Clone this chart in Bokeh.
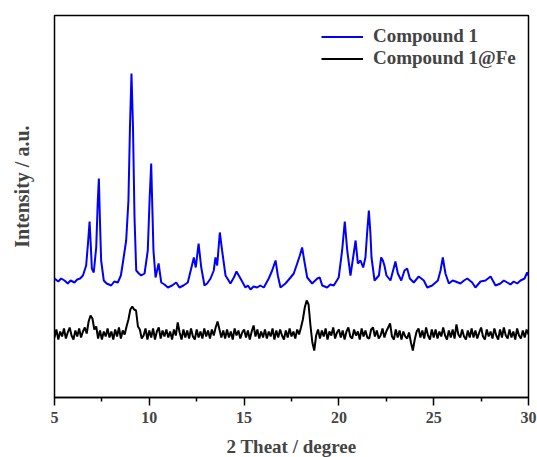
import numpy as np
from bokeh.plotting import figure
from bokeh.models import Range1d, FixedTicker, Legend, LegendItem, Title
from bokeh.embed import file_html
from bokeh.resources import INLINE

# Compound 1 (blue) : 2-theta (deg) and intensity (a.u.)
theta_c1 = [5.0, 5.2, 5.35, 5.53, 5.7, 5.85, 6.05, 6.2, 6.35, 6.5, 6.67, 6.77, 6.85, 6.92, 6.97, 7.07, 7.2, 7.28, 7.34,
            7.4, 7.46, 7.6, 7.75, 7.99, 8.15, 8.34, 8.5, 8.6, 8.78, 8.9, 8.98, 9.06, 9.14, 9.22, 9.31, 9.45, 9.57,
            9.75, 9.92, 10.02, 10.1, 10.16, 10.22, 10.33, 10.49, 10.63, 10.8, 10.98, 11.2, 11.42, 11.59, 11.8,
            12.03, 12.21, 12.35, 12.45, 12.6, 12.74, 12.91, 13.05, 13.23, 13.4, 13.49, 13.58, 13.72, 13.84, 14.02,
            14.28, 14.46, 14.6, 14.81, 15.07, 15.2, 15.34, 15.5, 15.69, 15.85, 16.04, 16.3, 16.48, 16.66, 16.78,
            16.92, 17.18, 17.45, 17.62, 17.8, 17.94, 18.06, 18.19, 18.33, 18.59, 18.86, 18.99, 19.12, 19.38, 19.55,
            19.73, 19.99, 20.17, 20.31, 20.44, 20.61, 20.75, 20.88, 21.0, 21.14, 21.28, 21.4, 21.49, 21.58, 21.66,
            21.72, 21.88, 22.11, 22.23, 22.32, 22.4, 22.51, 22.72, 22.9, 22.98, 23.11, 23.29, 23.46, 23.6, 23.74,
            23.95, 24.21, 24.48, 24.66, 24.92, 25.1, 25.22, 25.36, 25.48, 25.62, 25.8, 26.0, 26.15, 26.41, 26.6,
            26.77, 27.03, 27.2, 27.47, 27.73, 28.0, 28.26, 28.52, 28.7, 28.88, 29.05, 29.22, 29.4, 29.58, 29.79,
            29.93, 30.0]
intensity_c1 = [119, 116, 119, 117, 114, 117, 115, 118, 119, 122, 132, 155, 176, 150, 129, 125, 150, 195, 219,
                175, 137, 117, 114, 112, 116, 115, 122, 134, 157, 197, 270, 324, 270, 180, 127, 124, 122,
                124, 147, 200, 234, 190, 147, 120, 134, 115, 113, 110, 112, 115, 110, 112,
                115, 129, 140, 130, 154, 130, 112, 114, 119, 127, 140, 132, 165, 147, 122,
                114, 120, 126, 119, 110, 112, 108, 111, 110, 112, 110, 119, 127, 137, 122,
                110, 114, 120, 124, 134, 142, 150, 135, 120, 114, 119, 120, 112, 110, 113,
                112, 120, 147, 176, 147, 122, 140, 157, 134, 137, 130, 140, 165, 187, 165,
                140, 117, 122, 140, 137, 132, 122, 117, 130, 136, 124, 117, 127, 129, 119,
                115, 121, 117, 110, 112, 115, 117, 127, 140, 124, 114, 117, 116, 114, 117,
                119, 115, 110, 116, 117, 121, 112, 114, 117, 115, 113, 116, 114, 117, 119,
                125, 122]

# Compound 1@Fe (black): intensities every 0.1 deg from 5.0 to 30.0
theta_fe = list(np.round(np.arange(5.0, 30.05, 0.1), 1))
intensity_fe = [
    60, 68, 58, 66, 61, 69, 59, 65, 70, 62,
    58, 67, 61, 69, 60, 66, 70, 64, 76, 82,
    79, 68, 71, 59, 67, 58, 66, 61, 69, 60,
    66, 58, 68, 61, 70, 59, 67, 63, 71, 78,
    88, 91, 88, 87, 71, 68, 59, 62, 69, 58,
    67, 60, 69, 58, 66, 70, 59, 67, 61, 68,
    60, 66, 58, 68, 62, 75, 65, 58, 68, 60,
    67, 59, 69, 61, 58, 68, 60, 66, 59, 69,
    61, 67, 59, 68, 62, 70, 76, 68, 60, 67,
    59, 68, 60, 66, 58, 69, 62, 67, 59, 65,
    68, 60, 67, 58, 66, 72, 61, 68, 59, 66,
    60, 68, 59, 66, 61, 69, 58, 67, 60, 68,
    62, 58, 67, 60, 69, 61, 66, 59, 68, 63,
    70, 78, 90, 97, 93, 72, 55, 47, 62, 68,
    59, 67, 61, 69, 58, 66, 62, 70, 59, 65,
    68, 60, 67, 58, 66, 70, 61, 59, 68, 62,
    66, 58, 69, 61, 67, 60, 59, 68, 70, 61,
    67, 59, 62, 69, 60, 66, 70, 74, 61, 58,
    68, 60, 67, 58, 66, 61, 59, 65, 55, 47,
    58, 66, 69, 60, 67, 59, 70, 62, 58, 68,
    60, 68, 59, 66, 61, 70, 62, 58, 67, 60,
    68, 59, 73, 63, 60, 68, 61, 58, 67, 60,
    69, 60, 67, 59, 65, 70, 61, 58, 68, 61,
    66, 59, 69, 62, 58, 68, 60, 70, 62, 59,
    68, 60, 66, 58, 69, 62, 59, 67, 60, 68,
    63]

x_major_ticks = [5, 10, 15, 20, 25, 30]
x_minor_ticks = [7.5, 12.5, 17.5, 22.5, 27.5]
series_names = ["Compound 1", "Compound 1@Fe"]

FONT = "Liberation Serif"

p = figure(frame_width=474, frame_height=382, output_backend="svg", toolbar_location=None,
           x_range=Range1d(5, 30), y_range=Range1d(0, 382))
p.min_border_left = 54
p.min_border_right = 9
p.min_border_top = 15
p.min_border_bottom = 60
p.background_fill_color = "white"
p.border_fill_color = "white"
p.grid.visible = False
p.outline_line_color = "black"
p.outline_line_width = 1.5

r1 = p.line(theta_c1, intensity_c1, line_color="#0000ff", line_width=2)
r2 = p.line(theta_fe, intensity_fe, line_color="black", line_width=2)

xa = p.xaxis[0]
xa.ticker = FixedTicker(ticks=x_major_ticks, minor_ticks=x_minor_ticks)
xa.axis_label = "2 Theat / degree"
xa.axis_label_text_font = FONT
xa.axis_label_text_font_style = "bold"
xa.axis_label_text_font_size = "19px"
xa.axis_label_standoff = 10
xa.major_label_text_font = FONT
xa.major_label_text_font_style = "bold"
xa.major_label_text_font_size = "16px"
xa.major_label_standoff = 6
xa.major_tick_in = 0
xa.major_tick_out = 8
xa.minor_tick_in = 0
xa.minor_tick_out = 4
xa.axis_line_width = 1.5
xa.major_tick_line_width = 1.5
xa.minor_tick_line_width = 1.5

# y axis: invisible tick used only as a spacer between the frame and the title
ya = p.yaxis[0]
ya.ticker = FixedTicker(ticks=[0], minor_ticks=[])
ya.axis_line_color = None
ya.major_tick_line_color = None
ya.minor_tick_line_color = None
ya.major_tick_in = 0
ya.major_tick_out = 22
ya.major_label_standoff = 0
ya.major_label_text_font_size = "1px"
ya.major_label_text_alpha = 0

p.add_layout(Title(text="Intensity / a.u.", text_font=FONT, text_font_style="bold",
                   text_font_size="20px", align="right", offset=110, standoff=0,
                   vertical_align="bottom"), "left")

legend = Legend(items=[LegendItem(label=series_names[0], renderers=[r1]),
                       LegendItem(label=series_names[1], renderers=[r2])],
                location=(267, 328), border_line_alpha=0, background_fill_alpha=0,
                label_text_font=FONT, label_text_font_style="bold", label_text_font_size="19px",
                glyph_width=42, glyph_height=19, label_height=19, spacing=0,
                label_standoff=10, padding=0, margin=0)
p.add_layout(legend)

open("out.html", "w").write(file_html(p, INLINE))
